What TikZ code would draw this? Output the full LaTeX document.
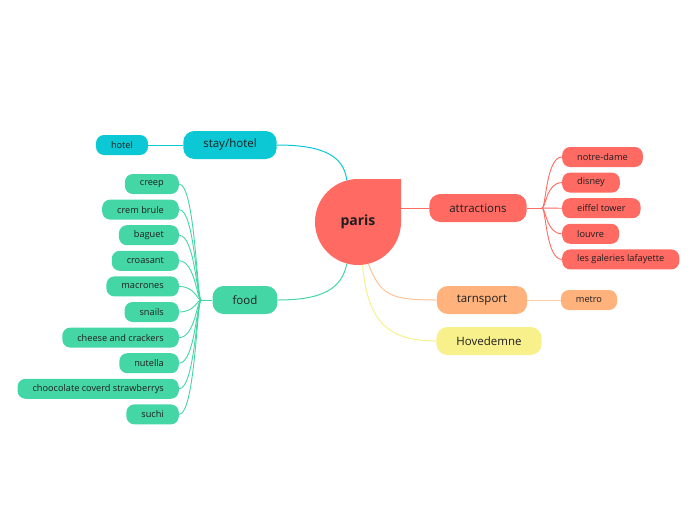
\documentclass[tikz,border=0pt]{standalone}
\usepackage{fontspec}
\setmainfont{Open Sans}
\usetikzlibrary{positioning}
\usetikzlibrary{calc}

\definecolor{parisred}{HTML}{FF6A63}
\definecolor{hotelcyan}{HTML}{0BC8D4}
\definecolor{foodgreen}{HTML}{45D6A5}
\definecolor{transorange}{HTML}{FFB27C}
\definecolor{mainyellow}{HTML}{F7F08B}
\definecolor{txt}{HTML}{1E1E1E}

\tikzset{
  branch/.style={rounded corners=11pt, minimum height=28pt, inner xsep=20pt, inner ysep=0pt,
                 text=txt, font=\fontsize{11.5}{13}\selectfont},
  leaf/.style={rounded corners=8pt, minimum height=20pt, inner xsep=15pt, inner ysep=0pt,
               text=txt, font=\fontsize{9.2}{11}\selectfont},
  link/.style={line width=1pt}
}

\begin{document}
\begin{tikzpicture}[x=1pt,y=-1pt]
  \useasboundingbox (0,0) rectangle (696,520);

  %central drop
  \fill[parisred] (401,222) arc[start angle=0, end angle=270, radius=43] -- (401,179) -- cycle;
  \node[circle, minimum size=86pt, inner sep=0pt, font=\fontsize{14}{16}\selectfont\bfseries, text=txt] (paris) at (358,222) {paris};

  %main branches
  \node[branch, fill=hotelcyan] (stayhotel) at (230,145) {stay/hotel};
  \node[branch, fill=foodgreen] (food) at (245,300) {food};
  \node[branch, fill=parisred] (attractions) at (478,208) {attractions};
  \node[branch, fill=transorange] (tarnsport) at (482,300) {tarnsport};
  \node[branch, fill=mainyellow] (hovedemne) at (489,341) {Hovedemne};

  \draw[link, hotelcyan] (paris.105) .. controls +(-3,-25) and +(45,0) .. (stayhotel.east);
  \draw[link, foodgreen] (paris.255) .. controls +(-5,25) and +(45,0) .. (food.east);
  \draw[link, parisred] (paris.east |- attractions.west) -- (attractions.west);
  \draw[link, transorange!80] (paris.284) .. controls +(12,32) and +(-45,0) .. (tarnsport.west);
  \draw[link, mainyellow] (paris.276) .. controls +(5,55) and +(-50,0) .. (hovedemne.west);

  %stay/hotel
  \node[leaf, fill=hotelcyan] (hotel) at (122,145) {hotel};
  \draw[link, hotelcyan] (stayhotel.west) -- (hotel.east);

  %tarnsport
  \node[leaf, fill=transorange] (metro) at (589,300) {metro};
  \draw[link, transorange!70] (tarnsport.east) -- (metro.west);

  %food leaves
  \def\d{25.6};
  \coordinate (ff) at (201,300);
  \draw[link, foodgreen] (ff) -- (food.west);
  \foreach \i/\num/\name in {0/creep/f0,1/crem brule/f1,2/baguet/f2,3/croasant/f3,4/macrones/f4,
                             5/snails/f5,6/cheese and crackers/f6,7/nutella/f7,
                             8/choocolate coverd strawberrys/f8,9/suchi/f9}{
      \node[leaf, fill=foodgreen, anchor=east] (\name) at (179, 184 + \i*\d) {\num};
      \draw[foodgreen, line width=0.9pt] (\name.east) .. controls +(16,0) and +(-4,0) .. (ff);
  }

  %attraction leaves
  \coordinate (af) at (542,208);
  \draw[link, parisred] (attractions.east) -- (af);
  \foreach \i/\num/\name in {0/notre-dame/a0,1/disney/a1,2/eiffel tower/a2,3/louvre/a3,4/les galeries lafayette/a4}{
      \node[leaf, fill=parisred, anchor=west] (\name) at (562, 157 + \i*\d) {\num};
      \draw[parisred, line width=0.9pt] (af) .. controls +(4,0) and +(-16,0) .. (\name.west);
  }

\end{tikzpicture}
\end{document}
